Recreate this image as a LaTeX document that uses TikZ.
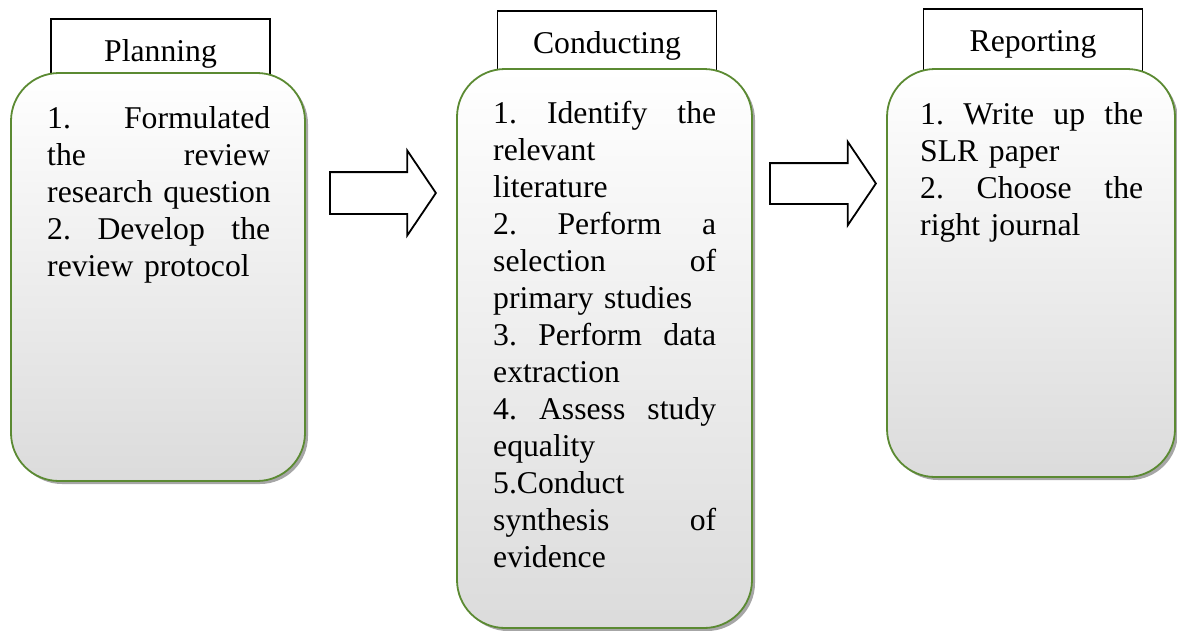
\documentclass[tikz,border=0pt]{standalone}
\usepackage{fontspec}
\setmainfont{Liberation Serif}
\usepackage{xcolor}
\usepackage{tikz}
\usetikzlibrary{positioning, shapes, shapes.arrows, shadows}
\definecolor{vertbord}{RGB}{91,138,50}
\definecolor{ombre}{RGB}{166,166,166}

\begin{document}
\begin{tikzpicture}[
		x=1pt, y=-1pt,
		titre/.style={rectangle, draw, line width=1.8pt, fill=white, minimum width=219pt,
			inner ysep=0pt, text height=42pt, text depth=35pt},
		etape/.style={rectangle, rounded corners=48pt, draw=vertbord, line width=1.8pt,
			top color=white, bottom color=gray!28, minimum width=294pt,
			drop shadow={shadow xshift=3pt, shadow yshift=-3pt, fill=ombre, opacity=1}},
		texte/.style={anchor=north west, text width=223pt, align=left, inner sep=0pt},
		fleche/.style={single arrow, draw, line width=1.8pt, fill=white, anchor=tail,
			text height=0pt, text depth=0pt, inner xsep=0pt, inner ysep=20pt,
			minimum height=106pt, single arrow head extend=21.5pt, single arrow tip angle=112}
		]
		\fontsize{31.7}{37}\selectfont
		\useasboundingbox (0,0) rectangle (1177,630);
		
		% Les titres
		\node[titre] (planning) at (160.5,61) [anchor=base] {Planning};
		\node[titre] (conducting) at (607,53) [anchor=base] {Conducting};
		\node[titre] (reporting) at (1033,51) [anchor=base] {Reporting};
		
		% Les boites
		\node[etape, minimum height=408pt] (b1) at (158,277) {};
		\node[etape, minimum height=559pt, minimum width=295pt] (b2) at (604.5,348.5) {};
		\node[etape, minimum height=408pt, minimum width=288pt] (b3) at (1031,273) {};
		
		% Les textes
		\node[texte] (t1) at (47,106) {1.\hfill Formulated\\
			the\hfill review\\
			\mbox{research question}\\
			2.\hfill Develop\hfill the\\
			review protocol};
		\node[texte] (t2) at (493,101) {1.\hfill Identify\hfill the\\
			relevant\\
			literature\\
			2.\hfill Perform\hfill a\\
			selection\hfill of\\
			primary studies\\
			3.\hfill Perform\hfill data\\
			extraction\\
			4.\hfill Assess\hfill study\\
			equality\\
			5.Conduct\\
			synthesis\hfill of\\
			evidence};
		\node[texte] (t3) at (920,102) {1.\hfill Write\hfill up\hfill the\\
			SLR paper\\
			2.\hfill Choose\hfill the\\
			right journal};
		
		% Les fleches
		\node[fleche] (f1) at (329,193) {};
		\node[fleche, inner ysep=19.5pt] (f2) at (769,183.5) {};
	\end{tikzpicture}
\end{document}
